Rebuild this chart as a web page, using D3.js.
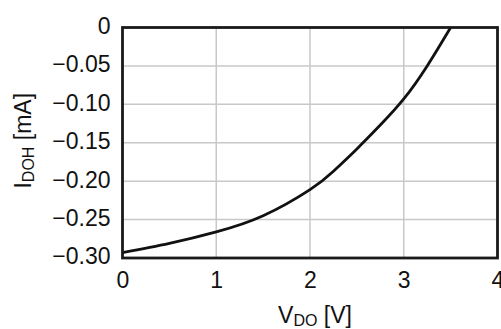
<!DOCTYPE html>
<html>
<head>
<meta charset="utf-8">
<script src="https://cdn.jsdelivr.net/npm/d3@7"></script>
<style>
  html, body { margin: 0; padding: 0; background: #fff; }
  svg { display: block; }
  text { font-family: "Liberation Sans", Arial, Helvetica, sans-serif; fill: #111; }
</style>
</head>
<body>
<svg id="chart" width="501" height="329"></svg>
<script>
// Data
const vdo  = [0, 0.5, 1, 1.5, 2, 2.25, 2.5, 2.75, 3, 3.25, 3.5];
const idoh = [-0.293, -0.281, -0.266, -0.245, -0.211, -0.187, -0.158, -0.127, -0.093, -0.050, 0];
const xTicks = [0, 1, 2, 3, 4];
const yTicks = [0, -0.05, -0.10, -0.15, -0.20, -0.25, -0.30];
const yTickLabels = ["0", "\u22120.05", "\u22120.10", "\u22120.15", "\u22120.20", "\u22120.25", "\u22120.30"];

const svg = d3.select("#chart");
const L = 122.5, R = 497.5, T = 27.5, B = 258;

const x = d3.scaleLinear().domain([0, 4]).range([L, R]);
const y = d3.scaleLinear().domain([-0.30, 0]).range([B, T]);

// grid
const grid = svg.append("g");
grid.selectAll("line.vx").data(xTicks.slice(1, -1)).join("line")
  .attr("x1", d => x(d)).attr("x2", d => x(d))
  .attr("y1", T).attr("y2", B)
  .attr("stroke", "#c8c8c8").attr("stroke-width", 1.5);
grid.selectAll("line.hy").data(yTicks.slice(1, -1)).join("line")
  .attr("x1", L).attr("x2", R)
  .attr("y1", d => y(d)).attr("y2", d => y(d))
  .attr("stroke", "#c8c8c8").attr("stroke-width", 1.5);

// axes (labels only, via d3 axes)
const fs = 23;
const xAxis = d3.axisBottom(x).tickValues(xTicks).tickSize(0).tickPadding(0).tickFormat(d3.format("d"));
const gx = svg.append("g").attr("transform", `translate(0,${B})`).call(xAxis);
gx.select(".domain").remove();
gx.selectAll("text").attr("font-size", fs).attr("dy", null).attr("y", 30)
  .style("font-family", '"Liberation Sans", Arial, sans-serif').attr("fill", "#111");

const yAxis = d3.axisLeft(y).tickValues(yTicks).tickSize(0).tickPadding(0)
  .tickFormat((d, i) => yTickLabels[i]);
const gy = svg.append("g").attr("transform", `translate(${L},0)`).call(yAxis);
gy.select(".domain").remove();
gy.selectAll("text").attr("font-size", fs).attr("x", -12).attr("dy", "0.26em")
  .style("font-family", '"Liberation Sans", Arial, sans-serif').attr("fill", "#111");

// curve
const line = d3.line().x((d, i) => x(vdo[i])).y(d => y(d)).curve(d3.curveNatural);
svg.append("path").datum(idoh).attr("d", line)
  .attr("fill", "none").attr("stroke", "#111").attr("stroke-width", 2.8);

// frame
svg.append("rect").attr("x", L).attr("y", T).attr("width", R - L).attr("height", B - T)
  .attr("fill", "none").attr("stroke", "#1a1a1a").attr("stroke-width", 2.8);

// axis titles
const xt = svg.append("text").attr("x", (L + R) / 2 + 5).attr("y", 323)
  .attr("text-anchor", "middle").attr("font-size", fs);
xt.append("tspan").text("V");
xt.append("tspan").attr("font-size", 16).attr("dy", 3).text("DO");
xt.append("tspan").attr("dy", -3).text(" [V]");

const yt = svg.append("text").attr("transform", `translate(31,${(T + B) / 2 - 2}) rotate(-90)`)
  .attr("text-anchor", "middle").attr("font-size", fs);
yt.append("tspan").text("I");
yt.append("tspan").attr("font-size", 16).attr("dy", 3).text("DOH");
yt.append("tspan").attr("dy", -3).text(" [mA]");
</script>
</body>
</html>
